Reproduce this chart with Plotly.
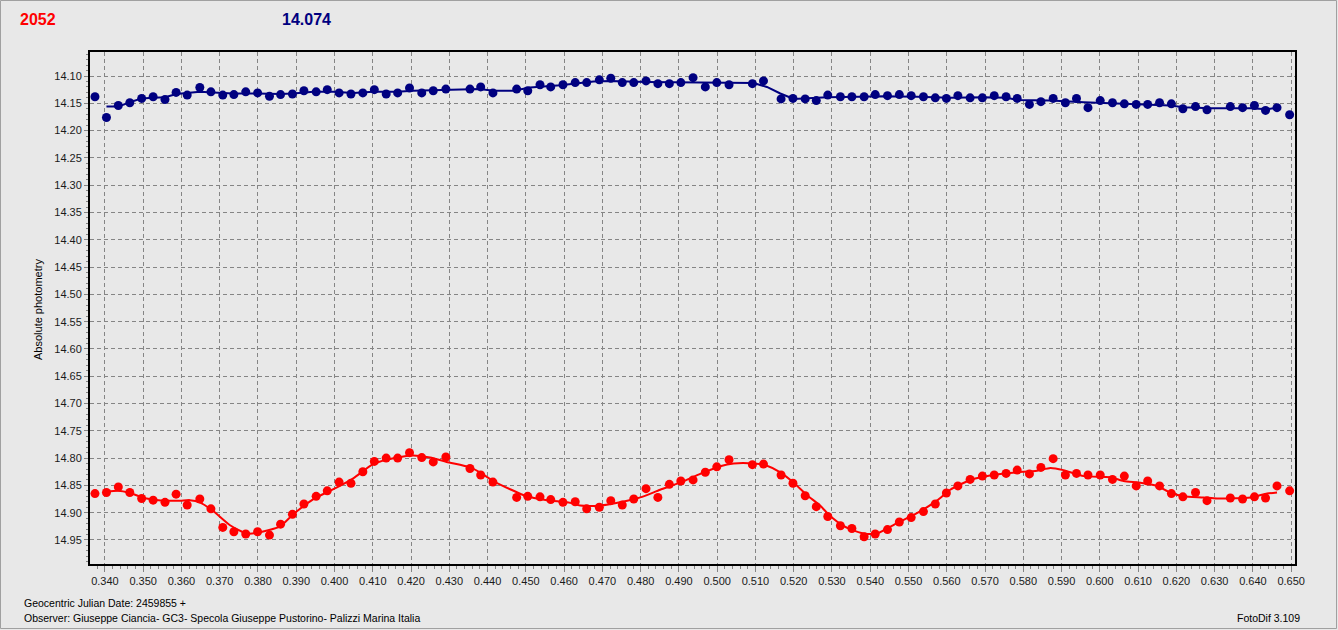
import plotly.graph_objects as go

# ---------------- data ----------------
jd_frac = [0.3374, 0.3404, 0.3435, 0.3465, 0.3496, 0.3526, 0.3557, 0.3586, 0.3615, 0.3648,
           0.3677, 0.3708, 0.3737, 0.3768, 0.3799, 0.3830, 0.3859, 0.3890, 0.3920, 0.3952,
           0.3981, 0.4012, 0.4043, 0.4074, 0.4104, 0.4135, 0.4165, 0.4196, 0.4228, 0.4258,
           0.4291, 0.4354, 0.4382, 0.4414, 0.4476, 0.4505, 0.4537, 0.4565, 0.4597, 0.4629,
           0.4659, 0.4692, 0.4722, 0.4752, 0.4782, 0.4814, 0.4845, 0.4875, 0.4905, 0.4937,
           0.4969, 0.4999, 0.5031, 0.5092, 0.5121, 0.5167, 0.5198, 0.5230, 0.5259, 0.5289,
           0.5322, 0.5352, 0.5384, 0.5413, 0.5445, 0.5476, 0.5507, 0.5539, 0.5570, 0.5599,
           0.5629, 0.5661, 0.5693, 0.5724, 0.5755, 0.5784, 0.5816, 0.5846, 0.5878, 0.5910,
           0.5939, 0.5969, 0.6001, 0.6033, 0.6064, 0.6095, 0.6125, 0.6156, 0.6187, 0.6217,
           0.6250, 0.6280, 0.6341, 0.6373, 0.6404, 0.6433, 0.6463, 0.6496]

comp_mag = [14.138, 14.176, 14.154, 14.149, 14.141, 14.138, 14.143, 14.130, 14.135, 14.121,
            14.129, 14.135, 14.134, 14.129, 14.131, 14.137, 14.134, 14.133, 14.127, 14.129,
            14.125, 14.131, 14.133, 14.131, 14.125, 14.133, 14.131, 14.122, 14.131, 14.127,
            14.124, 14.124, 14.120, 14.131, 14.124, 14.127, 14.116, 14.120, 14.116, 14.112,
            14.112, 14.107, 14.104, 14.112, 14.112, 14.109, 14.114, 14.114, 14.112, 14.103,
            14.120, 14.112, 14.116, 14.114, 14.109, 14.142, 14.141, 14.142, 14.145, 14.135,
            14.138, 14.138, 14.138, 14.134, 14.136, 14.134, 14.136, 14.138, 14.140, 14.141,
            14.136, 14.140, 14.140, 14.136, 14.138, 14.141, 14.152, 14.147, 14.141, 14.149,
            14.141, 14.158, 14.145, 14.149, 14.151, 14.152, 14.152, 14.149, 14.151, 14.160,
            14.156, 14.162, 14.156, 14.158, 14.154, 14.163, 14.158, 14.171]

target_mag = [14.865, 14.863, 14.853, 14.863, 14.874, 14.877, 14.881, 14.866, 14.886, 14.875,
              14.893, 14.927, 14.935, 14.939, 14.935, 14.941, 14.921, 14.903, 14.884, 14.870,
              14.860, 14.844, 14.846, 14.825, 14.806, 14.800, 14.800, 14.790, 14.799, 14.807,
              14.798, 14.819, 14.831, 14.844, 14.872, 14.870, 14.871, 14.876, 14.881, 14.880,
              14.893, 14.890, 14.878, 14.886, 14.875, 14.856, 14.872, 14.848, 14.842, 14.840,
              14.826, 14.816, 14.803, 14.812, 14.811, 14.831, 14.846, 14.869, 14.889, 14.907,
              14.924, 14.929, 14.944, 14.939, 14.931, 14.917, 14.909, 14.898, 14.884, 14.864,
              14.851, 14.839, 14.833, 14.831, 14.828, 14.822, 14.829, 14.817, 14.801, 14.831,
              14.828, 14.831, 14.831, 14.839, 14.833, 14.851, 14.842, 14.851, 14.865, 14.871,
              14.863, 14.878, 14.873, 14.875, 14.871, 14.873, 14.851, 14.860]

comp_fit_x = [0.3404, 0.3435, 0.3465, 0.3496, 0.3526, 0.3557, 0.3587, 0.3615, 0.3648, 0.3683,
              0.3735, 0.3797, 0.3857, 0.3892, 0.3945, 0.3997, 0.4049, 0.4101, 0.4163, 0.4206,
              0.4293, 0.4379, 0.4415, 0.4467, 0.4511, 0.4590, 0.4677, 0.4720, 0.4816, 0.4938,
              0.5025, 0.5095, 0.5130, 0.5165, 0.5200, 0.5287, 0.5374, 0.5435, 0.5522, 0.5609,
              0.5696, 0.5757, 0.5784, 0.5871, 0.5958, 0.6045, 0.6132, 0.6184, 0.6219, 0.6289,
              0.6393, 0.6437, 0.6463]
comp_fit_mag = [14.156, 14.156, 14.148, 14.141, 14.140, 14.139, 14.133, 14.131, 14.129, 14.130,
                14.132, 14.132, 14.133, 14.132, 14.129, 14.129, 14.131, 14.129, 14.129, 14.127,
                14.125, 14.124, 14.127, 14.127, 14.121, 14.117, 14.110, 14.109, 14.111, 14.112,
                14.113, 14.113, 14.120, 14.132, 14.142, 14.139, 14.138, 14.137, 14.138, 14.140,
                14.139, 14.140, 14.144, 14.145, 14.148, 14.150, 14.152, 14.154, 14.157, 14.159,
                14.159, 14.161, 14.158]

target_fit_x = [0.3404, 0.3435, 0.3465, 0.3509, 0.3552, 0.3596, 0.3622, 0.3648, 0.3683, 0.3727,
                0.3770, 0.3805, 0.3858, 0.3892, 0.3945, 0.3997, 0.4049, 0.4101, 0.4163, 0.4206,
                0.4250, 0.4293, 0.4354, 0.4380, 0.4415, 0.4459, 0.4502, 0.4555, 0.4616, 0.4642,
                0.4694, 0.4746, 0.4799, 0.4851, 0.4903, 0.4956, 0.5008, 0.5043, 0.5095, 0.5130,
                0.5165, 0.5200, 0.5235, 0.5269, 0.5295, 0.5330, 0.5348, 0.5383, 0.5418, 0.5470,
                0.5522, 0.5574, 0.5609, 0.5661, 0.5696, 0.5740, 0.5784, 0.5836, 0.5871, 0.5905,
                0.5958, 0.6027, 0.6062, 0.6106, 0.6150, 0.6184, 0.6219, 0.6271, 0.6306, 0.6394,
                0.6437, 0.6463]
target_fit_mag = [14.862, 14.860, 14.864, 14.874, 14.878, 14.878, 14.877, 14.881, 14.897, 14.923,
                  14.938, 14.936, 14.925, 14.903, 14.875, 14.857, 14.837, 14.811, 14.799, 14.795,
                  14.799, 14.807, 14.817, 14.826, 14.842, 14.857, 14.870, 14.877, 14.882, 14.887,
                  14.887, 14.881, 14.872, 14.858, 14.845, 14.829, 14.815, 14.810, 14.810, 14.814,
                  14.826, 14.845, 14.868, 14.887, 14.906, 14.924, 14.930, 14.938, 14.938, 14.919,
                  14.901, 14.878, 14.858, 14.840, 14.834, 14.829, 14.826, 14.823, 14.818, 14.822,
                  14.833, 14.835, 14.842, 14.845, 14.851, 14.863, 14.870, 14.872, 14.874, 14.872,
                  14.865, 14.863]

header_left = "2052"
header_mid = "14.074"
y_title = "Absolute photometry"
x_caption = "Geocentric Julian Date: 2459855 +"
observer = "Observer: Giuseppe Ciancia- GC3- Specola Giuseppe Pustorino- Palizzi Marina Italia"
software = "FotoDif 3.109"

# ---------------- layout geometry ----------------
W, H = 1338, 630
L, R, T, B = 90, 43, 52, 66
PW, PH = W - L - R, H - T - B

def px(x):
    return (x - L) / PW

def py(y):
    return 1 - (y - T) / PH

BLUE = "#000080"
RED = "#FF0000"
BG = "#E8E8E8"
FONT = "Liberation Sans, Arial, sans-serif"

fig = go.Figure()

fig.add_trace(go.Scatter(x=comp_fit_x, y=comp_fit_mag, mode="lines",
                         line=dict(color=BLUE, width=2), hoverinfo="skip"))
fig.add_trace(go.Scatter(x=target_fit_x, y=target_fit_mag, mode="lines",
                         line=dict(color=RED, width=2, shape="spline", smoothing=0.6),
                         hoverinfo="skip"))
fig.add_trace(go.Scatter(x=jd_frac, y=comp_mag, mode="markers",
                         marker=dict(color=BLUE, size=9, symbol="circle")))
fig.add_trace(go.Scatter(x=jd_frac, y=target_mag, mode="markers",
                         marker=dict(color=RED, size=9, symbol="circle")))

fig.update_layout(
    width=W, height=H, autosize=False,
    margin=dict(l=L, r=R, t=T, b=B, pad=0),
    paper_bgcolor=BG, plot_bgcolor=BG,
    showlegend=False,
    font=dict(family=FONT, size=11, color="#1a1a1a"),
)

fig.update_xaxes(
    range=[0.3361, 0.6510], tick0=0.34, dtick=0.01, tickformat=".3f",
    showgrid=True, gridcolor="#858585", gridwidth=1, griddash="4px,3px",
    showline=True, linecolor="black", linewidth=2, mirror=True,
    ticks="outside", ticklen=6, tickcolor="#858585", tickwidth=1,
    minor=dict(dtick=0.002, ticks="outside", ticklen=3, tickcolor="#858585", showgrid=False),
    zeroline=False, tickfont=dict(size=11, family=FONT, color="#1a1a1a"),
)
fig.update_yaxes(
    range=[14.994, 14.056], tick0=14.10, dtick=0.05, tickformat=".2f",
    showgrid=True, gridcolor="#858585", gridwidth=1, griddash="4px,3px",
    showline=True, linecolor="black", linewidth=2, mirror=True,
    ticks="outside", ticklen=4, tickcolor="#858585", tickwidth=1,
    minor=dict(dtick=0.01, ticks="outside", ticklen=2, tickcolor="#858585", showgrid=False),
    zeroline=False, tickfont=dict(size=11, family=FONT, color="#1a1a1a"),
)

annos = [
    dict(text=header_left, x=px(18), y=py(19), xanchor="left", yanchor="middle",
         font=dict(size=16, color=RED, family=FONT, weight="bold")),
    dict(text=header_mid, x=px(280), y=py(19), xanchor="left", yanchor="middle",
         font=dict(size=16, color=BLUE, family=FONT, weight="bold")),
    dict(text=y_title, x=px(38), y=py(310), xanchor="center", yanchor="middle",
         textangle=-90, font=dict(size=11, color="#000000", family=FONT)),
    dict(text=x_caption, x=px(22), y=py(603), xanchor="left", yanchor="middle",
         font=dict(size=10.5, color="#000000", family=FONT)),
    dict(text=observer, x=px(22), y=py(618), xanchor="left", yanchor="middle",
         font=dict(size=10.5, color="#000000", family=FONT)),
    dict(text=software, x=px(1302), y=py(618), xanchor="right", yanchor="middle",
         font=dict(size=10.5, color="#000000", family=FONT)),
]
for a in annos:
    fig.add_annotation(xref="paper", yref="paper", showarrow=False, **a)

# outer window border
fig.add_shape(type="rect", xref="paper", yref="paper",
              x0=px(0.5), x1=px(W - 1.5), y0=py(H - 1.5), y1=py(0.5),
              line=dict(color="#A0A0A0", width=1), fillcolor="rgba(0,0,0,0)", layer="above")

fig.write_html(
    "out.html",
    config={"displayModeBar": False},
    post_script="document.body.style.margin='0';document.body.style.overflow='hidden';",
)
